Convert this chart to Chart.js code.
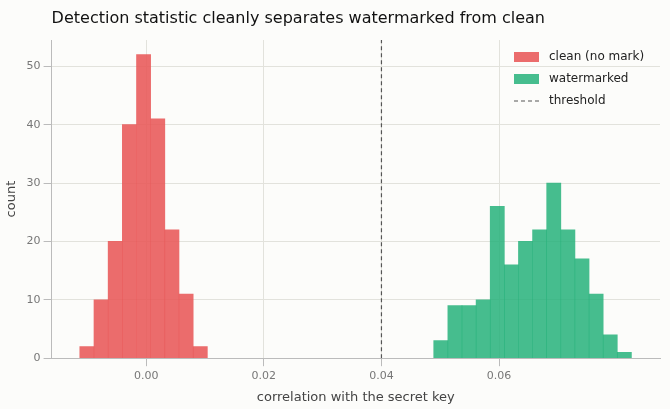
<!DOCTYPE html>
<html><head><meta charset="utf-8">
<script src="https://cdn.jsdelivr.net/npm/chart.js@4/dist/chart.umd.min.js"></script>
<style>html,body{margin:0;background:#fcfcfa}#wrap{width:670px;height:409px}</style>
</head><body><div id="wrap"><canvas id="c"></canvas></div>
<script>
// bin starts, widths and counts
const cleanStart = -0.01128, cleanWidth = 0.00241;
const cleanCounts = [2, 10, 20, 40, 52, 41, 22, 11, 2];
const markStart = 0.04889, markWidth = 0.00240;
const markCounts = [3, 9, 9, 10, 26, 16, 20, 22, 30, 22, 17, 11, 4, 1];
const threshold = 0.04;
const titleText = 'Detection statistic cleanly separates watermarked from clean';

const toBars = (start, w, counts) => counts.map((y, i) => ({ x: start + w * (i + 0.5), y }));
const onStep = (v, step) => Math.abs(v / step - Math.round(v / step)) < 1e-6;

const redFill = 'rgba(232,88,88,0.88)', greenFill = 'rgba(38,178,122,0.85)';

new Chart(document.getElementById('c'), {
  data: {
    datasets: [
      { type: 'bar', label: 'clean (no mark)', data: toBars(cleanStart, cleanWidth, cleanCounts),
        backgroundColor: redFill, barPercentage: 1, categoryPercentage: 1, grouped: false },
      { type: 'bar', label: 'watermarked', data: toBars(markStart, markWidth, markCounts),
        backgroundColor: greenFill, barPercentage: 1, categoryPercentage: 1, grouped: false },
      { type: 'line', label: 'threshold', data: [{ x: threshold, y: 0 }, { x: threshold, y: 54.5 }],
        borderColor: '#555', borderWidth: 1.2, borderDash: [4, 3], pointRadius: 0 }
    ]
  },
  options: {
    responsive: true, maintainAspectRatio: false, animation: false,
    layout: { padding: { top: 40, right: 10, left: 0 } },
    plugins: { title: { display: false }, legend: { display: false }, tooltip: { enabled: false } },
    scales: {
      x: { type: 'linear', min: -0.01607, max: 0.08735, offset: false,
        afterBuildTicks: s => { s.ticks = s.ticks.filter(t => onStep(t.value, 0.02)); },
        ticks: { stepSize: 0.02, color: '#777', font: { family: 'DejaVu Sans', size: 11 }, callback: v => v.toFixed(2) },
        grid: { offset: false, color: '#e2e2dc', tickColor: '#bbb' }, border: { color: '#bbb' },
        title: { display: true, text: 'correlation with the secret key', color: '#444', font: { family: 'DejaVu Sans', size: 13 } } },
      y: { min: 0, max: 54.5,
        afterBuildTicks: s => { s.ticks = s.ticks.filter(t => onStep(t.value, 10)); },
        ticks: { stepSize: 10, color: '#777', font: { family: 'DejaVu Sans', size: 11 } },
        grid: { color: '#e2e2dc', tickColor: '#bbb' }, border: { color: '#bbb' },
        title: { display: true, text: 'count', color: '#444', font: { family: 'DejaVu Sans', size: 13 } } }
    }
  },
  plugins: [{
    id: 'titleAndLegend',
    afterDraw(chart) {
      const ctx = chart.ctx, a = chart.chartArea;
      ctx.save();
      ctx.fillStyle = '#111';
      ctx.font = '16px "DejaVu Sans"';
      ctx.textBaseline = 'middle';
      ctx.fillText(titleText, a.left, 19);
      const items = chart.data.datasets;
      ctx.font = '12px "DejaVu Sans"';
      let y = a.top + 17;
      const x0 = a.right - 146;
      items.forEach(d => {
        if (d.type === 'bar') {
          ctx.fillStyle = d.backgroundColor;
          ctx.fillRect(x0, y - 5, 25, 10);
        } else {
          ctx.strokeStyle = d.borderColor; ctx.lineWidth = 1.2;
          ctx.setLineDash(d.borderDash);
          ctx.beginPath(); ctx.moveTo(x0, y); ctx.lineTo(x0 + 25, y); ctx.stroke();
          ctx.setLineDash([]);
        }
        ctx.fillStyle = '#222';
        ctx.fillText(d.label, x0 + 35, y);
        y += 22;
      });
      ctx.restore();
    }
  }]
});
</script></body></html>
